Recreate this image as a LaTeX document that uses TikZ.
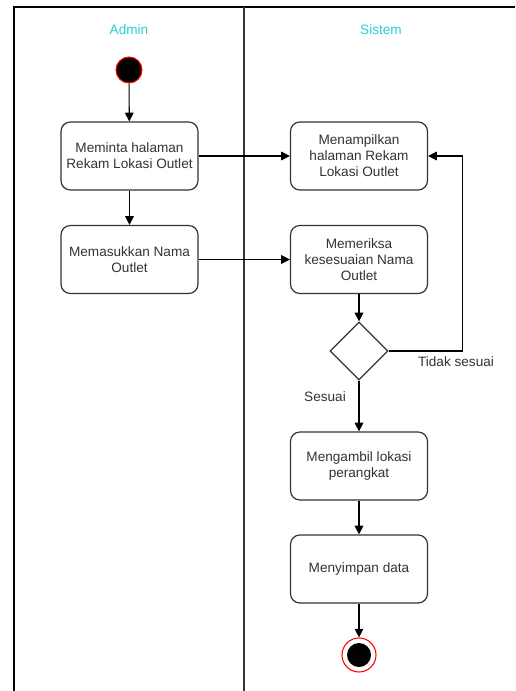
\documentclass[tikz,border=0pt]{standalone}
\usepackage{fontspec}
\setmainfont{Liberation Sans}
\usetikzlibrary{arrows.meta,shapes.geometric}

\definecolor{lanecyan}{RGB}{38,208,208}
\definecolor{edgegray}{RGB}{51,51,51}

\begin{document}
\begin{tikzpicture}[x=0.75pt,y=-0.75pt, every node/.style={font=\fontsize{10.2}{12}\selectfont, text=edgegray}]

\tikzset{act/.style={draw=edgegray, line width=0.9pt, rounded corners=7pt, fill=white, minimum width=102.75pt, minimum height=51pt, align=center, inner sep=2pt},
%decision node
choice/.style={draw=edgegray, line width=0.9pt, diamond, minimum width=43.5pt, minimum height=43.5pt, inner sep=0pt, fill=white},
flow/.style={draw=black, line width=0.8pt, -{Triangle[length=6.5pt, width=6.5pt]}},
lane/.style={text=lanecyan}}

\useasboundingbox (0,0) rectangle (515,691);

% frame and lanes
\draw [line width=1.4pt] (14,691) -- (14,7) -- (515,7);
\draw [line width=1.1pt, edgegray] (244,7) -- (244,691);

\node [lane] (admin) at (129,30) {Admin};
\node [lane] (sistem) at (381,30) {Sistem};

\node [circle, draw=red, fill=black, line width=0.8pt, minimum size=19.5pt, inner sep=0pt] (start) at (129,70) {};

\node [act] (ask) at (129.5,156) {Meminta halaman\\Rekam Lokasi Outlet};
\node [act] (show) at (359,156) {Menampilkan\\halaman Rekam\\Lokasi Outlet};
\node [act] (input) at (129.5,259.5) {Memasukkan Nama\\Outlet};
\node [act] (check) at (359,259.5) {Memeriksa\\kesesuaian Nama\\Outlet};
\node [choice] (dec) at (359,351) {};
\node [act] (locate) at (359,466) {Mengambil lokasi\\perangkat};
\node [act] (save) at (359,569) {Menyimpan data};

\node [circle, draw=red, fill=white, line width=0.8pt, minimum size=25.5pt, inner sep=0pt] (stop) at (359,655) {};
\node [circle, fill=black, minimum size=18pt, inner sep=0pt] (stopdot) at (stop.center) {};

\draw [flow] (start) -- (ask);
\draw [flow] (ask) -- (input);
\draw [flow] (ask.east) -- (show.west);
\draw [flow] (input.east) -- (check.west);
\draw [flow] (check) -- (dec);
\draw [flow] (dec.east) -- ++(74,0) |- (show.east);
\draw [flow] (dec) -- (locate);
\draw [flow] (locate) -- (save);
\draw [flow] (save) -- (stop);

\node (no) at (456,362) {Tidak sesuai};
\node (yes) at (325,397) {Sesuai};

\end{tikzpicture}
\end{document}
